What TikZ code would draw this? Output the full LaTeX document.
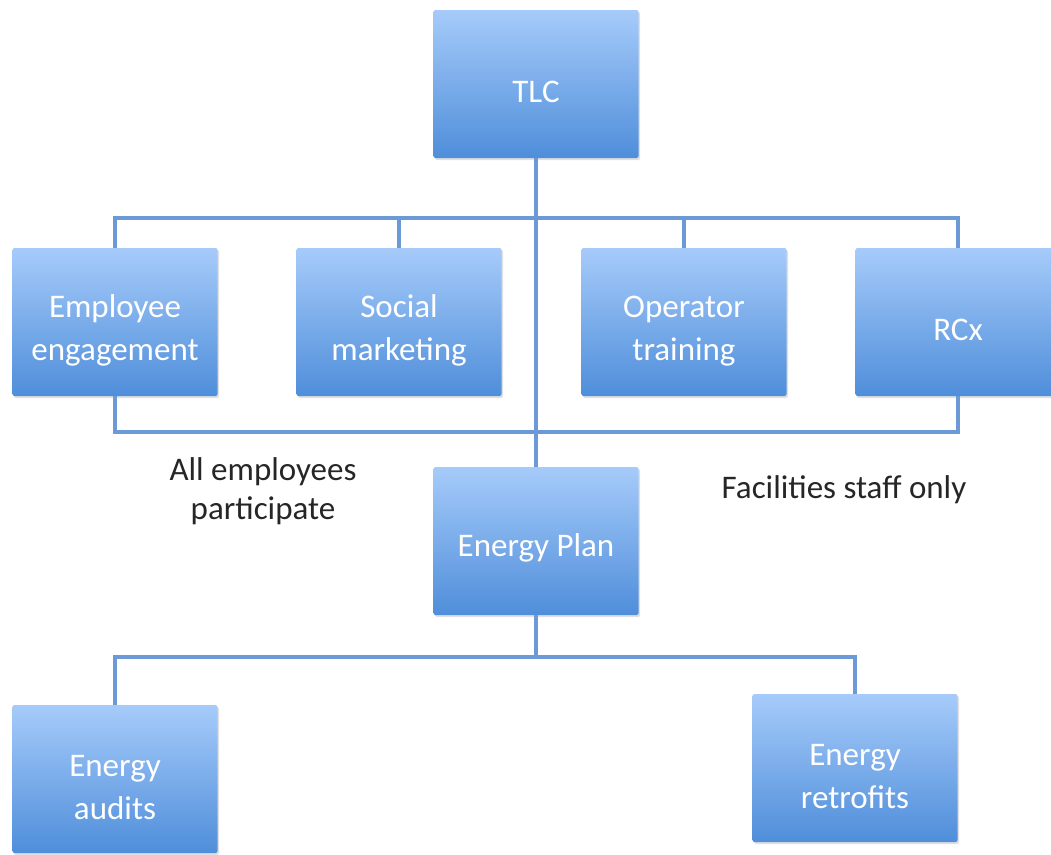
\documentclass[tikz,border=0pt]{standalone}
\usepackage{fontspec}
\setmainfont{Carlito}
\usetikzlibrary{shadows}

\definecolor{boxtop}{HTML}{A6CBFA}
\definecolor{boxbot}{HTML}{4F8EDA}
\definecolor{linkblue}{HTML}{6B9AD6}

\tikzset{
  orgbox/.style={rectangle, rounded corners=2pt, minimum width=205pt, minimum height=148pt,
    inner sep=0pt, top color=boxtop, bottom color=boxbot, draw=none,
    drop shadow={opacity=0.25, shadow xshift=1.5pt, shadow yshift=-2pt},
    text=white, align=center, font=\fontsize{33}{43}\selectfont},
  oneline/.style={orgbox, execute at begin node={\rule{0pt}{37pt}}},
  twoline/.style={orgbox, execute at begin node={\rule{0pt}{82pt}}},
  link/.style={linkblue, line width=4pt},
  note/.style={align=center, text=black!85, font=\fontsize{33}{39}\selectfont}
}

\begin{document}
\begin{tikzpicture}[x=1pt, y=-1pt]
  \useasboundingbox (0,0) rectangle (1051,854);
  \clip (0,0) rectangle (1051,854);

  % boxes
  \node[oneline] (tlc) at (536,84) {TLC};
  \node[twoline] (emp) at (115,322) {Employee\\engagement};
  \node[twoline] (soc) at (399,322) {Social\\marketing};
  \node[twoline] (opt) at (684,322) {Operator\\training};
  \node[oneline] (rcx) at (958,322) {RCx};
  \node[oneline] (plan) at (536,541) {Energy Plan};
  \node[twoline] (audit) at (115,779) {Energy\\audits};
  \node[twoline] (retro) at (855,768) {Energy\\retrofits};

  % notes
  \node[note] (allemp) at (263,491) {All employees\\participate};
  \node[note] (fac) at (844,490) {Facilities staff only};

  % connectors
  \coordinate (busa) at (536,218);
  \coordinate (busb) at (536,432);
  \coordinate (busc) at (536,657);
  \begin{scope}[on background layer/.try]
  \draw[link] (tlc.south) -- (plan.north);
  \draw[link] (emp.north) |- (busa) -| (rcx.north);
  \draw[link] (soc.north) -- (soc.north |- busa);
  \draw[link] (opt.north) -- (opt.north |- busa);
  \draw[link] (emp.south) |- (busb) -| (rcx.south);
  \draw[link] (plan.south) -- (busc);
  \draw[link] (audit.north) |- (busc) -| (retro.north);
  \end{scope}
\end{tikzpicture}
\end{document}
